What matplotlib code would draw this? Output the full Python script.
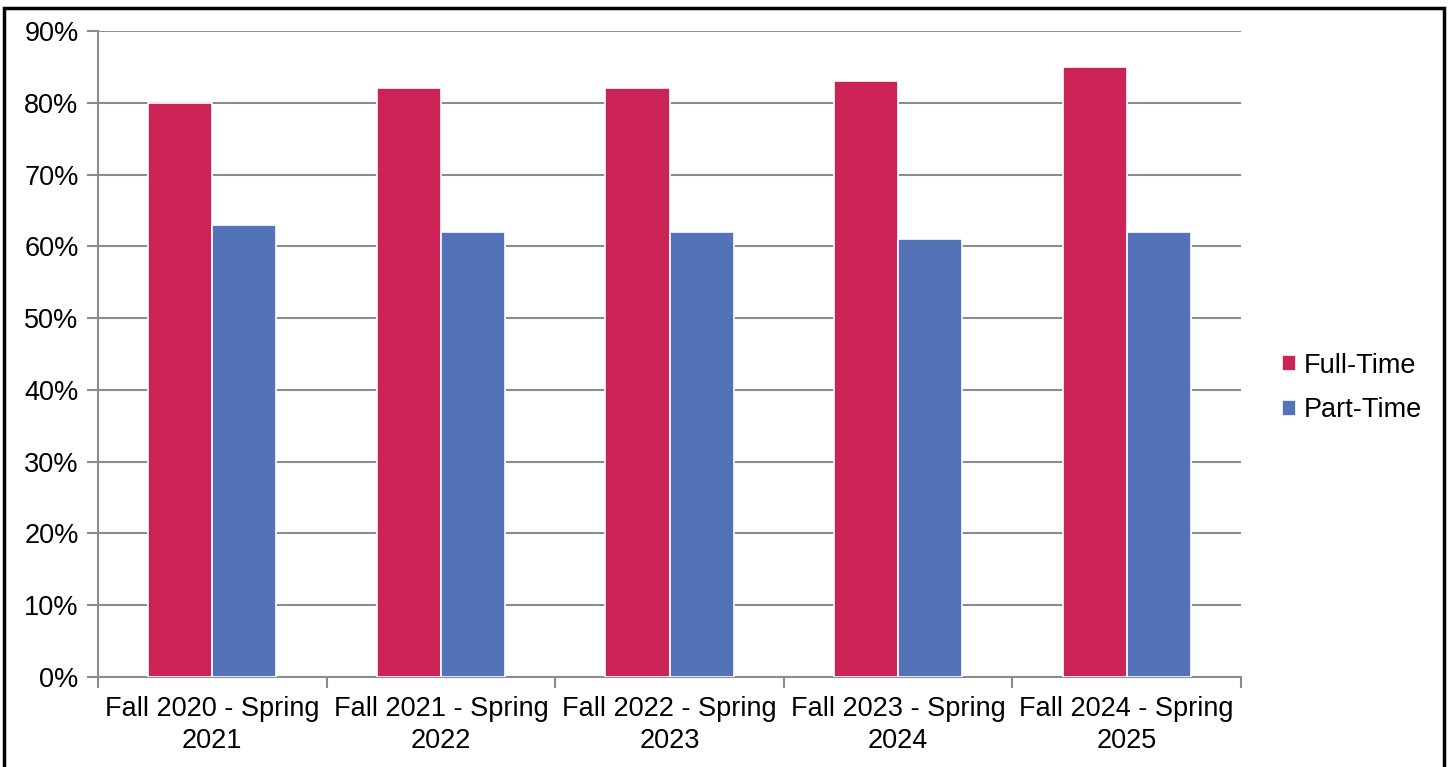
import matplotlib.pyplot as plt
import numpy as np
from matplotlib.patches import Rectangle
from matplotlib.ticker import FixedLocator, PercentFormatter

# data
categories = ["Fall 2020 - Spring\n2021", "Fall 2021 - Spring\n2022", "Fall 2022 - Spring\n2023",
              "Fall 2023 - Spring\n2024", "Fall 2024 - Spring\n2025"]
full_time = [80, 82, 82, 83, 85]
part_time = [63, 62, 62, 61, 62]

plt.rcParams['font.family'] = ['Liberation Sans', 'DejaVu Sans']
FS = 19.5

fig = plt.figure(figsize=(14.49, 7.67), dpi=100)
ax = fig.add_axes([98 / 1449, 1 - 677 / 767, (1241 - 98) / 1449, (677 - 31) / 767])

x = np.arange(len(categories))
w = 0.28
ax.bar(x - w / 2, full_time, w, color='#CB2355', edgecolor='white', linewidth=1.2, label='Full-Time', zorder=3)
ax.bar(x + w / 2, part_time, w, color='#5472B8', edgecolor='white', linewidth=1.2, label='Part-Time', zorder=3)

ax.set_xlim(-0.5, len(categories) - 0.5)
ax.set_ylim(0, 90)
ax.set_yticks(range(0, 91, 10))
ax.yaxis.set_major_formatter(PercentFormatter(decimals=0))
ax.grid(axis='y', color='#8c8c8c', linewidth=1.5, zorder=0)

# category labels centred, tick marks at the boundaries
ax.set_xticks(x)
ax.set_xticklabels(categories, fontsize=FS, linespacing=1.3)
ax.tick_params(axis='x', which='major', length=0, pad=14)
ax.xaxis.set_minor_locator(FixedLocator(np.arange(-0.5, len(categories), 1)))
ax.tick_params(axis='x', which='minor', length=8, width=1.5, color='#8c8c8c')
ax.tick_params(axis='y', length=8, width=1.5, color='#8c8c8c', labelsize=FS, pad=6)

for s in ['top', 'right']:
    ax.spines[s].set_visible(False)
for s in ['left', 'bottom']:
    ax.spines[s].set_color('#8c8c8c')
    ax.spines[s].set_linewidth(1.5)

leg = fig.legend(loc='center left', bbox_to_anchor=(1258 / 1449, 1 - 388 / 767), frameon=False,
                 fontsize=FS, handlelength=0.5, handleheight=0.5, handletextpad=0.3, labelspacing=0.7)

# outer frame
fig.patches.append(Rectangle((4 / 1449, -0.01), (1444 - 4) / 1449, 1.0, transform=fig.transFigure,
                             fill=False, edgecolor='black', linewidth=2.5))

fig.savefig('out.png', dpi=100)
